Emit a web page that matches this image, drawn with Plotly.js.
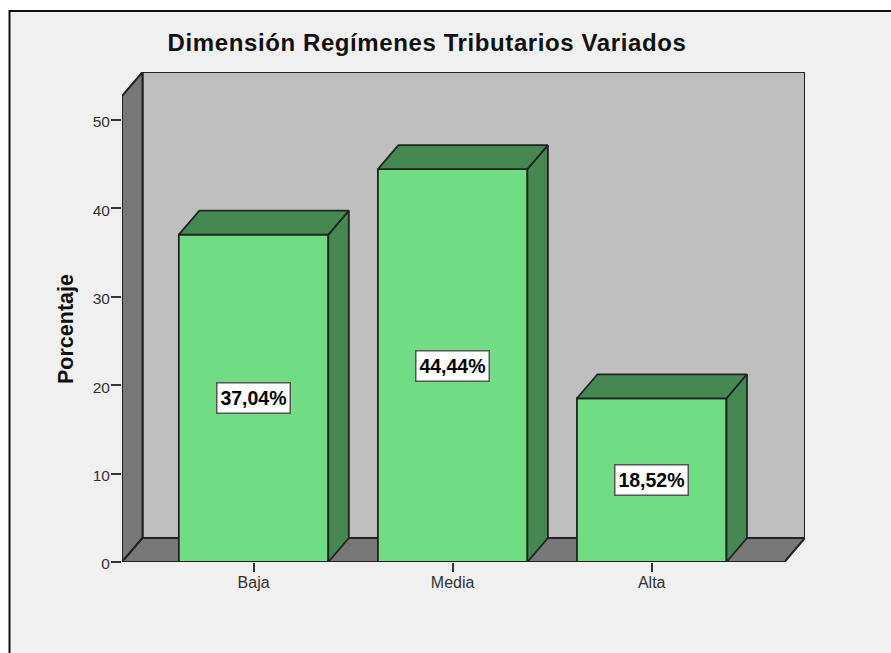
<!DOCTYPE html>
<html><head><meta charset="utf-8">
<script src="https://cdn.plot.ly/plotly-3.0.1.min.js"></script>
<style>html,body{margin:0;padding:0;background:#fff;overflow:hidden}#g{width:891px;height:653px}
.gtitle{letter-spacing:0.6px}
</style>
</head><body><div id="g"></div>
<script>
var categories = ["Baja", "Media", "Alta"];
var values = [37.04, 44.44, 18.52];
var labels = ["37,04%", "44,44%", "18,52%"];
var yTicks = [0, 10, 20, 30, 40, 50];

// pseudo-3D geometry, in axis units
var depthX = 0.103, depthY = 2.715, barWidth = 0.751;
var xMin = -0.661, xMax = 2.77, yMax = 55.43;
var frontRight = xMax - depthX, wallTop = yMax;

var edge = "#222222", faceFront = "#70dd85", faceDark = "#458851";
var wallBack = "#bfbfbf", wallDark = "#787878", bg = "#f0f0f0";
var sans = "Liberation Sans, Arial, sans-serif";

function poly(xs, ys, fill) {
  return {type:"scatter", mode:"lines", x:xs.concat(xs[0]), y:ys.concat(ys[0]), fill:"toself",
    fillcolor:fill, line:{color:edge, width:1.8}, hoverinfo:"skip", showlegend:false};
}
function path(xs, ys) {
  return "M" + xs.map(function(x,i){return x + "," + ys[i];}).join("L") + "Z";
}
function wall(xs, ys, fill) {
  return {type:"path", xref:"x", yref:"y", layer:"below", path:path(xs,ys), fillcolor:fill,
    line:{color:edge, width:2}};
}

var traces = [{
  type:"bar", x:[0,1,2], y:values, width:barWidth, marker:{color:faceFront, line:{color:edge, width:1.8}},
  hoverinfo:"skip", showlegend:false
}];
values.forEach(function(v,i){
  var l = i - barWidth/2, r = i + barWidth/2;
  traces.push(poly([r, r+depthX, r+depthX, r], [0, depthY, v+depthY, v], faceDark));
  traces.push(poly([l, l+depthX, r+depthX, r], [v, v+depthY, v+depthY, v], faceDark));
});

var W = 683, H = 490, L = 122, T = 72;
function px(x){return (x-L)/W;}
function py(y){return 1-(y-T)/H;}

var shapes = [
  {type:"rect", xref:"paper", yref:"paper", layer:"below", x0:px(9.5), x1:px(900), y0:py(11), y1:py(670),
    fillcolor:bg, line:{color:"#111111", width:2}},
  wall([xMin+depthX, xMax, xMax, xMin+depthX], [depthY, depthY, wallTop, wallTop], wallBack),
  wall([xMin, xMin+depthX, xMin+depthX, xMin], [0, depthY, wallTop, wallTop-depthY], wallDark),
  wall([xMin, xMin+depthX, xMax, frontRight], [0, depthY, depthY, 0], wallDark)
];

var annotations = values.map(function(v,i){
  return {x:i, y:v/2, xref:"x", yref:"y", text:labels[i], showarrow:false, bgcolor:"#ffffff",
    bordercolor:"#555555", borderwidth:1.5, borderpad:1, width:70, height:27,
    font:{family:sans, size:19.5, color:"#000000", weight:700}};
});
annotations.push({xref:"paper", yref:"paper", x:px(66), y:py(329), xanchor:"center", yanchor:"middle",
  text:"<b>Porcentaje</b>", textangle:-90, showarrow:false, font:{family:sans, size:21.5, color:"#111111"}});

var layout = {
  width:891, height:653, paper_bgcolor:"#ffffff", plot_bgcolor:"rgba(0,0,0,0)",
  margin:{l:L, r:891-L-W, t:T, b:653-T-H, pad:0}, showlegend:false, bargap:0,
  title:{text:"<b>Dimensión Regímenes Tributarios Variados</b>", x:(167+687)/2/891, xanchor:"center", y:1-43/653, yanchor:"middle",
    font:{family:sans, size:24, color:"#111111"}},
  xaxis:{range:[xMin,xMax], tickvals:[0,1,2], ticktext:categories, ticks:"outside", ticklen:9, tickwidth:2, tickcolor:"#333333",
    showgrid:false, zeroline:false, showline:false, fixedrange:true, ticklabelstandoff:-3,
    tickfont:{family:sans, size:16, color:"#333333"}},
  yaxis:{range:[0,yMax], tickvals:yTicks, ticks:"outside", ticklen:10, tickwidth:2, tickcolor:"#333333",
    showgrid:false, zeroline:false, showline:false, fixedrange:true, ticklabelstandoff:-2, ticklabelshift:2,
    tickfont:{family:sans, size:15.5, color:"#333333"}},
  shapes:shapes, annotations:annotations
};
Plotly.newPlot("g", traces, layout, {displayModeBar:false, staticPlot:true});
</script></body></html>
